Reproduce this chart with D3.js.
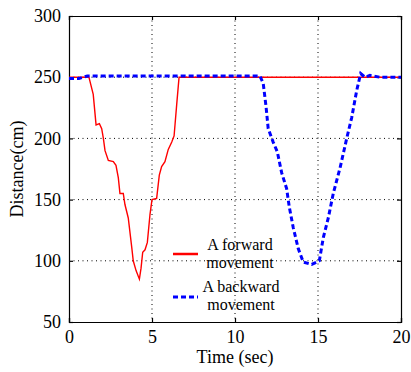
<!DOCTYPE html>
<html>
<head>
<meta charset="utf-8">
<script src="https://cdn.jsdelivr.net/npm/d3@7"></script>
<style>
  body { margin: 0; background: #fff; }
</style>
</head>
<body>
<div id="chart-area"></div>
<script>
// forward movement (red)
const fwdTime = [0, 1.0, 1.2, 1.46, 1.63, 1.83, 1.97, 2.07, 2.17, 2.37, 2.67, 2.83, 2.97, 3.07, 3.27, 3.37, 3.57, 3.78, 3.87, 4.04, 4.24, 4.34, 4.44, 4.58, 4.72, 4.88, 5.0, 5.28, 5.44, 5.58, 5.78, 5.98, 6.19, 6.33, 6.49, 6.63, 20]
const fwdDist = [250, 250, 250, 236, 211, 212, 208, 200, 190, 182, 181, 178, 168, 155, 155, 146, 135, 111, 100, 92, 85, 94, 107, 109, 115, 138, 150, 151, 170, 177, 181, 191, 197, 202, 228, 250, 250]

// backward movement (blue, dashed)
const bwdTime = [0, 0.6, 1.1, 11.5, 11.7, 11.87, 12.0, 12.3, 12.55, 12.81, 13.11, 13.27, 13.51, 13.81, 14.11, 14.62, 15.08, 15.32, 15.62, 15.92, 16.33, 16.73, 17.03, 17.33, 17.57, 17.83, 18.13, 18.73, 20]
const bwdDist = [249, 249, 251, 251, 245, 226, 208, 197, 189, 172, 159, 144, 127, 110, 99, 97, 100, 119, 135, 155, 176, 200, 217, 239, 253, 250, 251.5, 250, 250]

const xTicks = [0, 5, 10, 15, 20]
const yTicks = [50, 100, 150, 200, 250, 300]
const legendLabels = [["A forward", "movement"], ["A backward", "movement"]]

const font = "Liberation Serif"
const svgWidth = 411
const svgHeight = 372
const margin = { left: 69, right: 10, top: 16, bottom: 50 }
const chartWidth = svgWidth - margin.left - margin.right
const chartHeight = svgHeight - margin.top - margin.bottom

const xScale = d3.scaleLinear()
    .domain([0, 20])
    .range([0, chartWidth])

const yScale = d3.scaleLinear()
    .domain([50, 300])
    .range([chartHeight, 0])

const svg = d3.select("#chart-area")
    .append("svg")
    .attr("width", svgWidth)
    .attr("height", svgHeight)
    .attr("font-family", font)

const chart = svg.append("g")
    .attr("transform", `translate(${margin.left},${margin.top})`)

// dotted grid
const innerX = xTicks.slice(1, -1)
const innerY = yTicks.slice(1, -1)
chart.append("g")
    .selectAll("line")
    .data(innerX)
    .join("line")
    .attr("x1", d => xScale(d)).attr("x2", d => xScale(d))
    .attr("y1", 0).attr("y2", chartHeight)
    .attr("stroke", "#000")
    .attr("stroke-width", 1)
    .attr("stroke-dasharray", "1,3.5")
chart.append("g")
    .selectAll("line")
    .data(innerY)
    .join("line")
    .attr("y1", d => yScale(d)).attr("y2", d => yScale(d))
    .attr("x1", 0).attr("x2", chartWidth)
    .attr("stroke", "#000")
    .attr("stroke-width", 1)
    .attr("stroke-dasharray", "1,3.5")

// axes, ticks inward like matlab
chart.append("g")
    .attr("transform", `translate(0,${chartHeight})`)
    .call(d3.axisBottom(xScale).tickValues(xTicks).tickSize(-4).tickPadding(8))
chart.append("g")
    .call(d3.axisTop(xScale).tickValues(xTicks).tickSize(-4).tickFormat(""))
chart.append("g")
    .call(d3.axisLeft(yScale).tickValues(yTicks).tickSize(-4).tickPadding(8))
chart.append("g")
    .attr("transform", `translate(${chartWidth},0)`)
    .call(d3.axisRight(yScale).tickValues(yTicks).tickSize(-4).tickFormat(""))

chart.selectAll("g")
    .attr("font-family", font)
    .attr("font-size", 18)
svg.selectAll(".tick text")
    .attr("fill", "#000")
svg.selectAll(".domain, .tick line")
    .attr("stroke", "#000")
    .attr("stroke-width", 1.2)

// axis titles
svg.append("text")
    .attr("x", margin.left + chartWidth / 2)
    .attr("y", 363)
    .attr("text-anchor", "middle")
    .attr("font-size", 18)
    .text("Time (sec)")
svg.append("text")
    .attr("transform", `translate(23,${margin.top + chartHeight / 2}) rotate(-90)`)
    .attr("text-anchor", "middle")
    .attr("font-size", 18)
    .text("Distance(cm)")

// lines
const lineGen = d3.line()
    .x(d => xScale(d[0]))
    .y(d => yScale(d[1]))

chart.append("path")
    .attr("d", lineGen(d3.zip(fwdTime, fwdDist)))
    .attr("fill", "none")
    .attr("stroke", "#ff0000")
    .attr("stroke-width", 1.4)

chart.append("path")
    .attr("d", lineGen(d3.zip(bwdTime, bwdDist)))
    .attr("fill", "none")
    .attr("stroke", "#0000ff")
    .attr("stroke-width", 3)
    .attr("stroke-dasharray", "5,3")

// legend
const legend = svg.append("g")
const legendStyles = [
    { color: "#ff0000", width: 2.5, dash: null, y: 254, tx: 240 },
    { color: "#0000ff", width: 3, dash: "5,3", y: 297, tx: 241 }
]
legendLabels.forEach((lines, i) => {
    const s = legendStyles[i]
    legend.append("line")
        .attr("x1", 173).attr("x2", 198)
        .attr("y1", s.y).attr("y2", s.y)
        .attr("stroke", s.color)
        .attr("stroke-width", s.width)
        .attr("stroke-dasharray", s.dash)
    lines.forEach((t, j) => {
        legend.append("text")
            .attr("x", s.tx)
            .attr("y", s.y - 4 + j * 17.5 - (i === 0 ? 0 : 1))
            .attr("text-anchor", "middle")
            .attr("font-size", 16)
            .text(t)
    })
})
</script>
</body>
</html>
